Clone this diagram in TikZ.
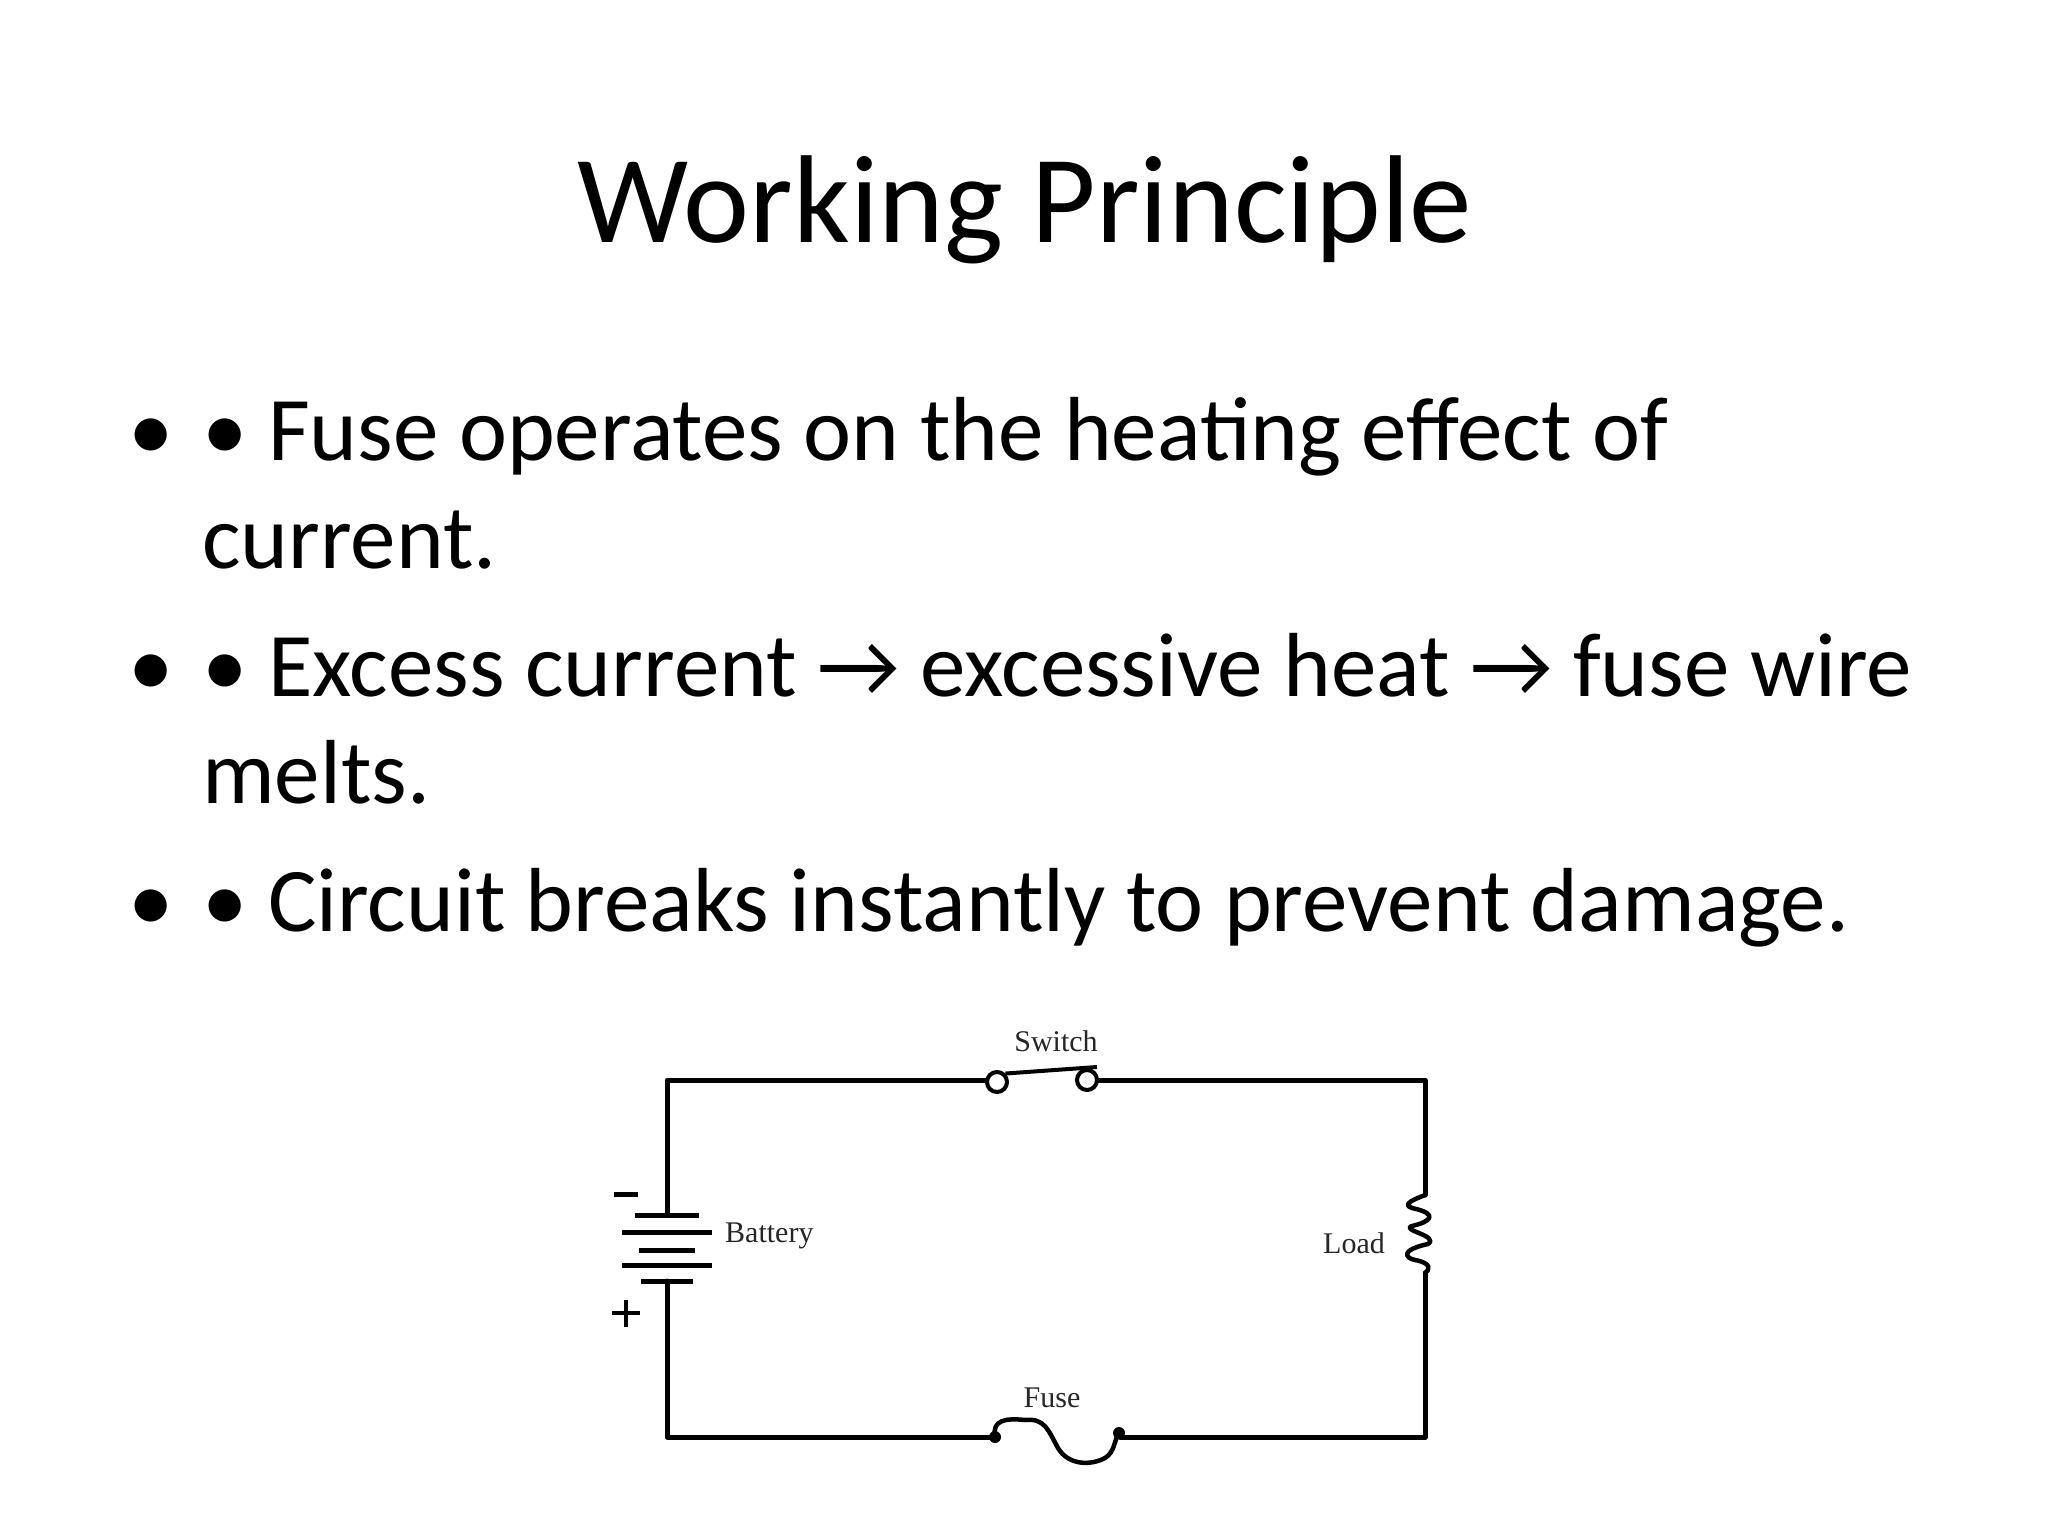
\documentclass[tikz,border=0pt]{standalone}
\usepackage{fontspec}
\setmainfont{Carlito}
\newfontfamily\circfont{Liberation Serif}
\begin{document}
\begin{tikzpicture}[x=1pt,y=-1pt,
  body/.style={anchor=base west,inner sep=0pt,font=\fontsize{91}{100}\selectfont},
  lab/.style={inner sep=0pt,font=\circfont\fontsize{30}{34}\selectfont,text=black!85},
  wire/.style={line width=5pt,line cap=round,line join=round}]
\useasboundingbox (0,0) rectangle (2048,1536);
\fill[white] (0,0) rectangle (2048,1536);
\node[anchor=base,inner sep=0pt,font=\fontsize{125}{140}\selectfont] (title) at (1025,242) {Working Principle};
\node[body] (b1) at (128,460) {•};
\node[body] (t1) at (202,460) {• Fuse operates on the heating effect of};
\node[body] (t1b) at (202,568) {current.};
\node[body] (b2) at (128,696) {•};
\node[body] (t2) at (202,696) {• Excess current → excessive heat → fuse wire};
\node[body] (t2b) at (202,803) {melts.};
\node[body] (b3) at (128,931) {•};
\node[body] (t3) at (202,931) {• Circuit breaks instantly to prevent damage.};
% circuit
\coordinate (tl) at (667,1080); \coordinate (tr) at (1425,1080);
\coordinate (bl) at (667,1437); \coordinate (br) at (1425,1437);
\coordinate (s1) at (987,1080); \coordinate (s2) at (1097,1080);
\coordinate (bt) at (667,1215); \coordinate (bb) at (667,1281);
\coordinate (rt) at (1425,1195); \coordinate (rb) at (1425,1273);
\coordinate (f1) at (995,1437); \coordinate (f2) at (1120,1437);
% wires
\draw[wire] (bt) -- (tl) -- (s1);
\draw[wire] (s2) -- (tr) -- (rt);
\draw[wire] (rb) -- (br) -- (f2);
\draw[wire] (f1) -- (bl) -- (bb);
% switch
\node[circle,draw,line width=4pt,minimum size=20pt,inner sep=0pt,fill=white] (c1) at (997,1082) {};
\node[circle,draw,line width=4pt,minimum size=20pt,inner sep=0pt,fill=white] (c2) at (1087,1080) {};
\draw[line width=4pt] (c1.north east) -- (1097,1067);
\node[lab] (sw) at (1056,1041) {Switch};
% battery
\draw[line width=5pt] (635,1215) -- (699,1215);
\draw[line width=5pt] (622,1232) -- (712,1232);
\draw[line width=5pt] (639,1250) -- (695,1250);
\draw[line width=5pt] (622,1265) -- (712,1265);
\draw[line width=5pt] (641,1281) -- (693,1281);
\draw[line width=5pt] (614,1194) -- (638,1194);
\draw[line width=4.5pt] (626,1300) -- (626,1327) (612,1313) -- (640,1313);
\node[lab,anchor=west] (batt) at (725,1236) {Battery};
% load
\draw[wire,line width=4.5pt] (rt) .. controls (1418,1198) and (1400,1204) .. (1412,1208)
  .. controls (1440,1214) and (1430,1222) .. (1412,1226)
  .. controls (1400,1230) and (1440,1236) .. (1428,1244)
  .. controls (1400,1250) and (1405,1258) .. (1415,1260)
  .. controls (1432,1263) and (1430,1270) .. (rb);
\node[lab,anchor=east] (load) at (1385,1243) {Load};
% fuse
\fill (f1) circle (6pt); \fill (1119,1433) circle (6pt);
\draw[line width=4.5pt,line cap=round] (f1) .. controls (992,1420) and (1005,1418) .. (1025,1420)
  .. controls (1045,1418) and (1048,1430) .. (1058,1448)
  .. controls (1068,1465) and (1090,1466) .. (1105,1458)
  .. controls (1115,1452) and (1114,1440) .. (1119,1433);
\node[lab] (fuse) at (1052,1398) {Fuse};
\end{tikzpicture}
\end{document}
